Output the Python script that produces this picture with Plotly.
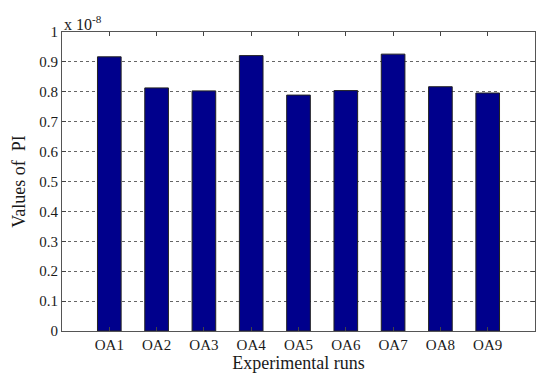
import plotly.graph_objects as go

runs = ["OA1", "OA2", "OA3", "OA4", "OA5", "OA6", "OA7", "OA8", "OA9"]
pi_values = [0.917e-8, 0.813e-8, 0.803e-8, 0.921e-8, 0.789e-8, 0.804e-8, 0.926e-8, 0.817e-8, 0.796e-8]
scale = 1e-8
y_ticks = [0, 0.1, 0.2, 0.3, 0.4, 0.5, 0.6, 0.7, 0.8, 0.9, 1]
y_tick_labels = ["0", "0.1", "0.2", "0.3", "0.4", "0.5", "0.6", "0.7", "0.8", "0.9", "1"]

xpos = list(range(1, len(runs) + 1))
font_family = "Liberation Serif, DejaVu Serif, serif"

fig = go.Figure()
fig.add_trace(go.Bar(
    x=xpos,
    y=[v / scale for v in pi_values],
    width=0.5,
    marker=dict(color="#00008C", line=dict(color="#222222", width=1)),
))

fig.update_layout(
    width=550, height=384,
    margin=dict(l=62, r=15, t=32, b=53),
    paper_bgcolor="white", plot_bgcolor="white",
    showlegend=False,
    font=dict(family=font_family, size=15, color="#1a1a1a"),
    xaxis=dict(
        range=[0, 10],
        tickmode="array", tickvals=xpos, ticktext=runs,
        ticks="inside", ticklen=4, tickcolor="#444444",
        showline=True, linecolor="#555555", linewidth=1, mirror="ticks",
        showgrid=False, zeroline=False,
        tickfont=dict(size=15),
        title=dict(text="Experimental runs", font=dict(size=18), standoff=2),
    ),
    yaxis=dict(
        range=[0, 1],
        tickmode="array", tickvals=y_ticks, ticktext=y_tick_labels,
        ticks="inside", ticklen=4, tickcolor="#444444",
        showline=True, linecolor="#555555", linewidth=1, mirror="ticks",
        showgrid=True, gridcolor="#666666", griddash="dot", gridwidth=1,
        zeroline=False,
        tickfont=dict(size=15),
        title=dict(text="Values of  PI", font=dict(size=18), standoff=8),
    ),
    annotations=[dict(
        x=0, y=1, xref="paper", yref="paper", xanchor="left", yanchor="bottom",
        text="x 10<sup>-8</sup>", showarrow=False, font=dict(size=16), yshift=-3,
    )],
)

fig.write_html(
    "out.html",
    config={"displayModeBar": False},
    post_script="document.body.style.margin='0';document.body.style.overflow='hidden';",
)
